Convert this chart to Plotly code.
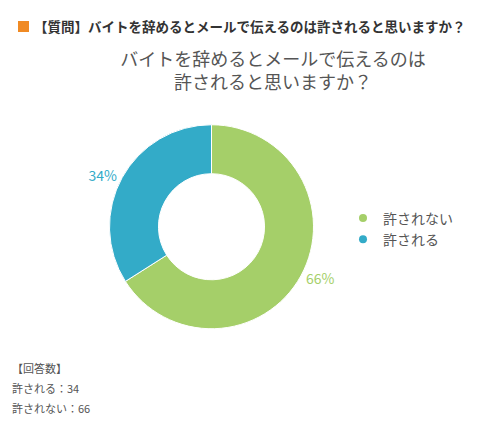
import plotly.graph_objects as go

# answers
labels = ["許されない", "許される"]
values = [66, 34]
colors = ["#a5cf69", "#33abc8"]

header = "【質問】バイトを辞めるとメールで伝えるのは許されると思いますか？"
title = "バイトを辞めるとメールで伝えるのは<br>許されると思いますか？"
count_title = "【回答数】"

font_jp = "Noto Sans CJK JP"

fig = go.Figure()

fig.add_trace(go.Pie(
    labels=labels,
    values=values,
    marker=dict(colors=colors, line=dict(color="white", width=1)),
    hole=0.52,
    sort=False,
    direction="clockwise",
    rotation=0,
    textposition="outside",
    texttemplate="%{percent:.0%}",
    outsidetextfont=dict(color=colors, size=14, family=font_jp),
    domain=dict(x=[0.203, 0.611], y=[0.247, 0.726]),
    showlegend=False,
    hoverinfo="label+value+percent",
))

# circle markers for the legend
for lab, col in zip(labels, colors):
    fig.add_trace(go.Scatter(
        x=[None], y=[None], mode="markers", name=lab,
        marker=dict(color=col, size=8, symbol="circle"),
    ))

# answer counts, one line each
count_lines = [count_title] + [f"{lab}：{v}" for lab, v in zip(labels[::-1], values[::-1])]
for i, line in enumerate(count_lines):
    fig.add_annotation(
        text=line,
        xref="paper", yref="paper", x=0.004, y=1 - (360 + 20 * i) / 426,
        xanchor="left", yanchor="middle", align="left", showarrow=False,
        font=dict(size=11, color="#555555", family=font_jp),
    )

fig.add_annotation(
    text=f"<b>{header}</b>",
    xref="paper", yref="paper", x=0.047, y=1 - 18 / 426,
    xanchor="left", yanchor="middle", showarrow=False,
    font=dict(size=13.5, color="#333333", family=font_jp),
)
fig.add_shape(
    type="rect", xref="paper", yref="paper",
    x0=10 / 500, x1=21 / 500, y0=1 - 24 / 426, y1=1 - 13 / 426,
    fillcolor="#f08a24", line=dict(width=0),
)

fig.update_layout(
    width=500, height=426,
    margin=dict(l=0, r=0, t=0, b=0),
    paper_bgcolor="white", plot_bgcolor="white",
    title=dict(
        text=title, x=0.53, xanchor="center", y=1 - 58 / 426, yanchor="middle",
        font=dict(size=18, color="#555555", family=font_jp),
    ),
    xaxis=dict(visible=False), yaxis=dict(visible=False),
    legend=dict(
        x=0.67, y=1 - 221 / 426, xanchor="left", yanchor="middle",
        font=dict(size=14, color="#555555", family=font_jp),
        itemwidth=30, tracegroupgap=0,
    ),
    font=dict(family=font_jp),
)

fig.write_html("out.html")
